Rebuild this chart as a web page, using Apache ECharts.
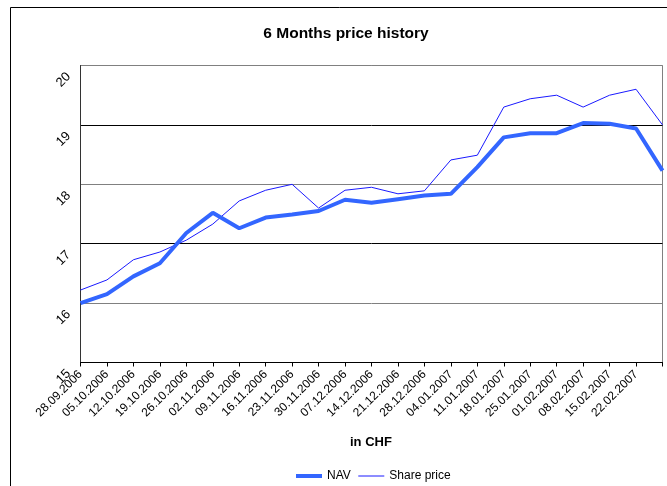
<!DOCTYPE html>
<html>
<head>
<meta charset="utf-8">
<script src="https://cdn.jsdelivr.net/npm/echarts@6/dist/echarts.min.js"></script>
<style>
html,body{margin:0;padding:0;background:#fff;}
#chart{width:667px;height:486px;}
</style>
</head>
<body>
<div id="chart"></div>
<script>
const categories = ['28.09.2006','05.10.2006','12.10.2006','19.10.2006','26.10.2006','02.11.2006','09.11.2006','16.11.2006','23.11.2006','30.11.2006','07.12.2006','14.12.2006','21.12.2006','28.12.2006','04.01.2007','11.01.2007','18.01.2007','25.01.2007','01.02.2007','08.02.2007','15.02.2007','22.02.2007',''];
const navValues = [16.00,16.15,16.45,16.67,17.18,17.52,17.26,17.44,17.49,17.55,17.74,17.69,17.75,17.81,17.84,18.29,18.79,18.86,18.86,19.03,19.02,18.94,18.23];
const sharePriceValues = [16.22,16.39,16.73,16.86,17.06,17.33,17.72,17.90,18.00,17.60,17.90,17.95,17.84,17.89,18.41,18.49,19.30,19.44,19.50,19.30,19.50,19.60,19.00];
const yMin = 15, yMax = 20, yStep = 1;
const titleText = '6 Months price history';
const xAxisName = 'in CHF';

const chart = echarts.init(document.getElementById('chart'), null, {renderer:'canvas'});
const font = 'Liberation Sans, Arial, sans-serif';
chart.setOption({
  animation: false,
  backgroundColor: '#fff',
  textStyle: {fontFamily: font, color: '#000'},
  title: {
    text: titleText, left: 341, top: 21, textAlign: 'center',
    textStyle: {fontSize: 15.5, fontWeight: 'bold', color: '#000', fontFamily: font}
  },
  graphic: [{
    type: 'rect', silent: true, z: 100,
    shape: {x: 10.5, y: 7.5, width: 800, height: 800},
    style: {fill: 'none', stroke: '#000', lineWidth: 1}
  }, {
    type: 'text', silent: true, left: 350, top: 436,
    style: {text: xAxisName, font: 'bold 13px ' + font, fill: '#000'}
  }],
  legend: {
    left: 294, top: 470, padding: 0, itemGap: 7, itemWidth: 26, itemHeight: 12,
    textStyle: {fontSize: 12, color: '#000', fontFamily: font},
    itemStyle: {opacity: 0},
    data: [
      {name: 'NAV', lineStyle: {width: 4, color: '#3366ff'}},
      {name: 'Share price', lineStyle: {width: 1, color: '#1a1aff'}}
    ]
  },
  grid: {left: 80.5, right: 4.5, top: 65.5, bottom: 123.5, show: true, borderColor: '#808080', borderWidth: 1},
  xAxis: {
    type: 'category', data: categories, boundaryGap: false,
    axisLine: {lineStyle: {color: '#000', width: 1}},
    axisTick: {show: true, length: 4, lineStyle: {color: '#000'}},
    axisLabel: {rotate: 45, margin: 10, interval: 0, fontSize: 12, color: '#000', fontFamily: font},
    splitLine: {show: false}
  },
  yAxis: {
    type: 'value', min: yMin, max: yMax, interval: yStep,
    axisLine: {show: true, lineStyle: {color: '#333', width: 1}},
    axisTick: {show: false},
    axisLabel: {rotate: 45, margin: 21, fontSize: 13, color: '#000', fontFamily: font,
      align: 'right', verticalAlign: 'top', lineHeight: 26},
    splitLine: {show: true, lineStyle: {color: ['#000', '#808080', '#000', '#808080', '#000', '#808080'], width: 1}}
  },
  series: [
    {name: 'NAV', type: 'line', data: navValues, symbol: 'none', z: 3,
     lineStyle: {width: 4, color: '#3366ff'}, itemStyle: {color: '#3366ff'}},
    {name: 'Share price', type: 'line', data: sharePriceValues, symbol: 'none', z: 2,
     lineStyle: {width: 1, color: '#1a1aff'}, itemStyle: {color: '#1a1aff'}}
  ]
});
</script>
</body>
</html>
